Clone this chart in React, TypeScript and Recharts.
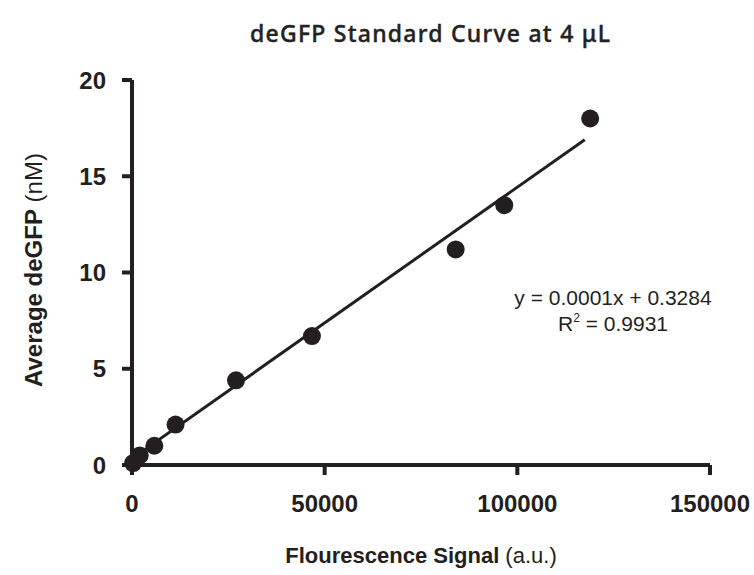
import React from 'react';
import { ScatterChart, Scatter, XAxis, YAxis } from 'recharts';

const signal = [300, 2000, 5800, 11300, 27000, 46700, 84000, 96600, 118900];
const avgDeGFP = [0.1, 0.5, 1.0, 2.1, 4.4, 6.7, 11.2, 13.5, 18.0];

// ends of the drawn trend line
const fitX = [0, 117500];
const fitY = [0.33, 16.9];

const xTicks = [0, 50000, 100000, 150000];
const yTicks = [0, 5, 10, 15, 20];

const points = signal.map((x, i) => ({ x, y: avgDeGFP[i] }));
const fitLine = fitX.map((x, i) => ({ x, y: fitY[i] }));

const INK = '#231f20';
const AXIS_FONT = 'Liberation Sans, Arial, sans-serif';

const App: React.FC = () => {
  return (
    <div style={{ position: 'absolute', left: 0, top: 0, width: 754, height: 575, background: '#fff' }}>
      <ScatterChart width={754} height={575} margin={{ top: 80, right: 44, left: 70, bottom: 60 }}>
        <XAxis
          type="number"
          dataKey="x"
          domain={[0, 150000]}
          ticks={xTicks}
          interval={0}
          stroke={INK}
          strokeWidth={4}
          tickSize={10}
          tickMargin={20}
          height={50}
          tick={{ fill: INK, fontSize: 24, fontWeight: 700, fontFamily: AXIS_FONT }}
        />
        <YAxis
          type="number"
          dataKey="y"
          domain={[0, 20]}
          ticks={yTicks}
          interval={0}
          stroke={INK}
          strokeWidth={4}
          tickSize={10}
          tickMargin={16}
          width={62}
          tick={{ fill: INK, fontSize: 24, fontWeight: 700, fontFamily: AXIS_FONT }}
        />
        <Scatter
          data={fitLine}
          line={{ stroke: INK, strokeWidth: 3 }}
          shape={() => <g />}
          isAnimationActive={false}
        />
        <Scatter
          data={points}
          fill={INK}
          shape={(p: any) => <circle cx={p.cx} cy={p.cy} r={9} fill={INK} />}
          isAnimationActive={false}
        />
      </ScatterChart>
      <svg
        width={754}
        height={575}
        style={{ position: 'absolute', left: 0, top: 0, pointerEvents: 'none' }}
      >
        <text
          x={430}
          y={42}
          textAnchor="middle"
          fontFamily="Noto Sans, sans-serif"
          fontWeight={500}
          fontSize={23}
          fill="#222"
          stroke="#222"
          strokeWidth={0.4}
          textLength={360}
          lengthAdjust="spacing"
        >
          deGFP Standard Curve at 4 μL
        </text>
        <text x={421} y={563} textAnchor="middle" fontFamily={AXIS_FONT} fontSize={22} fill={INK}>
          <tspan fontWeight={700}>Flourescence Signal</tspan>
          <tspan> (a.u.)</tspan>
        </text>
        <text
          x={0}
          y={0}
          transform="translate(42 270) rotate(-90)"
          textAnchor="middle"
          fontFamily={AXIS_FONT}
          fontSize={24}
          fill={INK}
        >
          <tspan fontWeight={700}>Average deGFP</tspan>
          <tspan> (nM)</tspan>
        </text>
        <text x={613} y={305} textAnchor="middle" fontFamily={AXIS_FONT} fontSize={21} fill={INK}>
          y = 0.0001x + 0.3284
        </text>
        <text x={613} y={331} textAnchor="middle" fontFamily={AXIS_FONT} fontSize={21} fill={INK}>
          R<tspan fontSize={12} dy={-9}>2</tspan>
          <tspan dy={9}> = 0.9931</tspan>
        </text>
      </svg>
    </div>
  );
};

export default App;
